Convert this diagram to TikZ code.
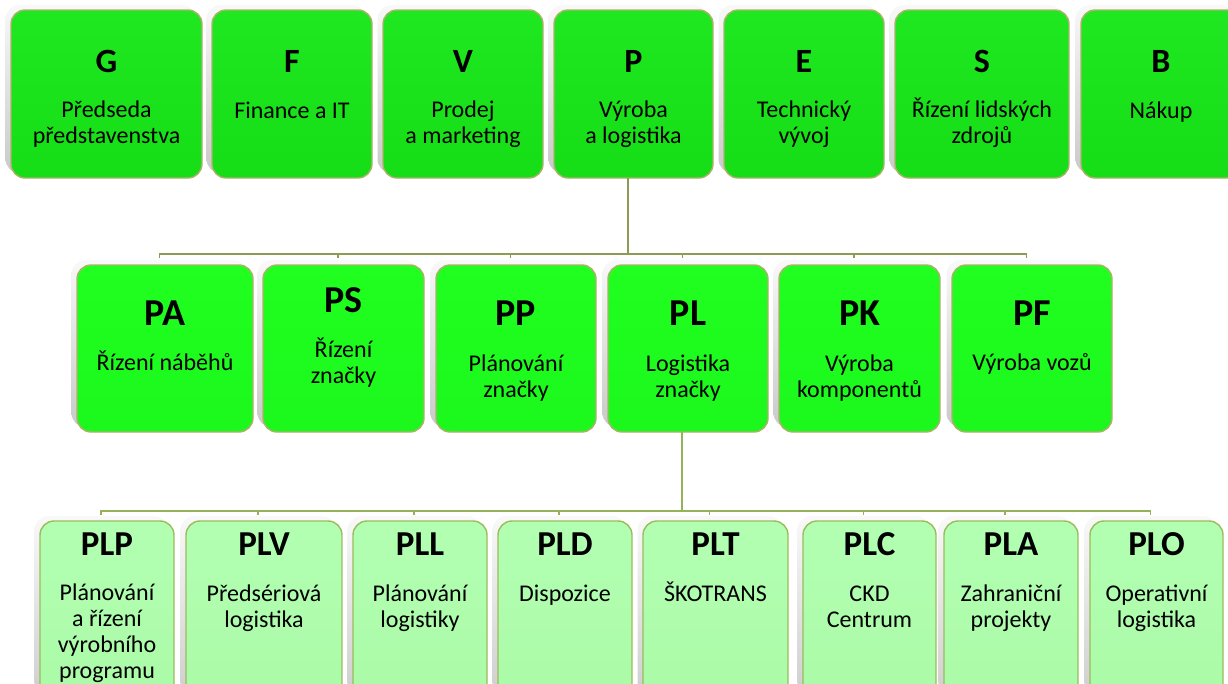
\documentclass[tikz,border=0pt]{standalone}
\usepackage{fontspec}
\setmainfont{Carlito}
\usetikzlibrary{calc}

\definecolor{topA}{RGB}{32,232,32}
\definecolor{topB}{RGB}{22,222,22}
\definecolor{midA}{RGB}{32,255,32}
\definecolor{midB}{RGB}{28,248,28}
\definecolor{lowA}{RGB}{178,255,178}
\definecolor{lowB}{RGB}{170,250,166}
\definecolor{rimTop}{RGB}{172,178,108}
\definecolor{rimLow}{RGB}{155,188,92}
\definecolor{wireTop}{RGB}{140,156,84}
\definecolor{wireLow}{RGB}{150,178,88}

% body nodes are anchored at the baseline of their last line
\tikzset{
  card/.style={anchor=north west, inner sep=0pt, outer sep=0pt, rounded corners=14pt,
    line width=1.4pt,
    preaction={draw=none, top color=gray!5, bottom color=gray!42,
      transform canvas={shift={(-5.5pt,5pt)}}}},
  cardtop/.style={card, draw=rimTop, top color=topA, bottom color=topB},
  cardmid/.style={card, draw=rimTop, top color=midA, bottom color=midB},
  cardlow/.style={card, draw=rimLow, top color=lowA, bottom color=lowB},
  head/.style={anchor=base, inner sep=0pt, font=\bfseries\fontsize{#1}{#1}\selectfont},
  head/.default=34pt,
  body/.style={anchor=base, inner sep=0pt, align=center,
    font=\fontsize{24pt}{25.7pt}\selectfont},
  wireT/.style={draw=wireTop, line width=1.8pt},
  wireL/.style={draw=wireLow, line width=1.8pt},
}

\begin{document}
\begin{tikzpicture}[x=1pt, y=-1pt]
\useasboundingbox (0,0) rectangle (1228,683);
\clip (0,0) rectangle (1228,683);

% board level
\node[cardtop, minimum width=191pt, minimum height=168pt] (G) at (11,10) {};
\node[cardtop, minimum width=160pt, minimum height=168pt] (F) at (212,10) {};
\node[cardtop, minimum width=160pt, minimum height=168pt] (V) at (383,10) {};
\node[cardtop, minimum width=159pt, minimum height=168pt] (P) at (554,10) {};
\node[cardtop, minimum width=160pt, minimum height=168pt] (E) at (724,10) {};
\node[cardtop, minimum width=174pt, minimum height=168pt] (S) at (895,10) {};
\node[cardtop, minimum width=160pt, minimum height=168pt] (B) at (1081,10) {};

\node[head] (Gh) at (106.5,72) {G};
\node[body] (Gb) at (106.5,143) {Předseda\\představenstva};
\node[head] (Fh) at (292,72) {F};
\node[body] (Fb) at (292,118) {Finance a IT};
\node[head] (Vh) at (463,72) {V};
\node[body] (Vb) at (463,143) {Prodej\\a marketing};
\node[head] (Ph) at (633.5,72) {P};
\node[body] (Pb) at (633.5,143) {Výroba\\a logistika};
\node[head] (Eh) at (804,72) {E};
\node[body] (Eb) at (804,143) {Technický\\vývoj};
\node[head] (Sh) at (982,72) {S};
\node[body] (Sb) at (982,143) {Řízení lidských\\zdrojů};
\node[head] (Bh) at (1161,72) {B};
\node[body] (Bb) at (1161,118) {Nákup};

% production departments
\node[cardmid, minimum width=176pt, minimum height=167pt] (PA) at (77,265) {};
\node[cardmid, minimum width=161pt, minimum height=167pt] (PS) at (263,265) {};
\node[cardmid, minimum width=160pt, minimum height=167pt] (PP) at (436,265) {};
\node[cardmid, minimum width=160pt, minimum height=167pt] (PL) at (608,265) {};
\node[cardmid, minimum width=161pt, minimum height=167pt] (PK) at (779,265) {};
\node[cardmid, minimum width=160pt, minimum height=167pt] (PF) at (952,265) {};

\node[head=38pt] (PAh) at (165,325) {PA};
\node[body] (PAb) at (165,370) {Řízení náběhů};
\node[head=38pt] (PSh) at (343.5,312) {PS};
\node[body] (PSb) at (343.5,383) {Řízení\\značky};
\node[head=38pt] (PPh) at (516,325) {PP};
\node[body] (PPb) at (516,397) {Plánování\\značky};
\node[head=38pt] (PLh) at (688,325) {PL};
\node[body] (PLb) at (688,397) {Logistika\\značky};
\node[head=38pt] (PKh) at (859.5,325) {PK};
\node[body] (PKb) at (859.5,397) {Výroba\\komponentů};
\node[head=38pt] (PFh) at (1032,325) {PF};
\node[body] (PFb) at (1032,370) {Výroba vozů};

% logistics units
\node[cardlow, minimum width=134pt, minimum height=200pt] (PLP) at (40,521) {};
\node[cardlow, minimum width=156pt, minimum height=200pt] (PLV) at (186,521) {};
\node[cardlow, minimum width=134pt, minimum height=200pt] (PLL) at (353,521) {};
\node[cardlow, minimum width=134pt, minimum height=200pt] (PLD) at (498,521) {};
\node[cardlow, minimum width=145pt, minimum height=200pt] (PLT) at (643,521) {};
\node[cardlow, minimum width=133pt, minimum height=200pt] (PLC) at (803,521) {};
\node[cardlow, minimum width=134pt, minimum height=200pt] (PLA) at (944,521) {};
\node[cardlow, minimum width=133pt, minimum height=200pt] (PLO) at (1090,521) {};

\node[head=35pt] (PLPh) at (107,555) {PLP};
\node[body] (PLPb) at (107,678) {Plánování\\a řízení\\výrobního\\programu};
\node[head=35pt] (PLVh) at (264,555) {PLV};
\node[body] (PLVb) at (264,627) {Předsériová\\logistika};
\node[head=35pt] (PLLh) at (420,555) {PLL};
\node[body] (PLLb) at (420,627) {Plánování\\logistiky};
\node[head=35pt] (PLDh) at (565,555) {PLD};
\node[body] (PLDb) at (565,601) {Dispozice};
\node[head=35pt] (PLTh) at (715.5,555) {PLT};
\node[body] (PLTb) at (715.5,601) {ŠKOTRANS};
\node[head=35pt] (PLCh) at (869.5,555) {PLC};
\node[body] (PLCb) at (869.5,627) {CKD\\Centrum};
\node[head=35pt] (PLAh) at (1011,555) {PLA};
\node[body] (PLAb) at (1011,627) {Zahraniční\\projekty};
\node[head=35pt] (PLOh) at (1156.5,555) {PLO};
\node[body] (PLOb) at (1156.5,627) {Operativní\\logistika};

% P -> production departments
\foreach \c in {PA,PS,PP,PL,PK,PF}
  \draw[wireT] ([xshift=-5.5pt]P.south) |- ([shift={(-5.5pt,11pt)}]\c.north)
    -- ([shift={(-5.5pt,7pt)}]\c.north);

% PL -> logistics units
\foreach \c in {PLP,PLV,PLL,PLD,PLT,PLC,PLA,PLO}
  \draw[wireL] ([xshift=-6pt]PL.south) |- ([shift={(-6pt,10pt)}]\c.north)
    -- ([shift={(-6pt,6pt)}]\c.north);
\end{tikzpicture}
\end{document}
